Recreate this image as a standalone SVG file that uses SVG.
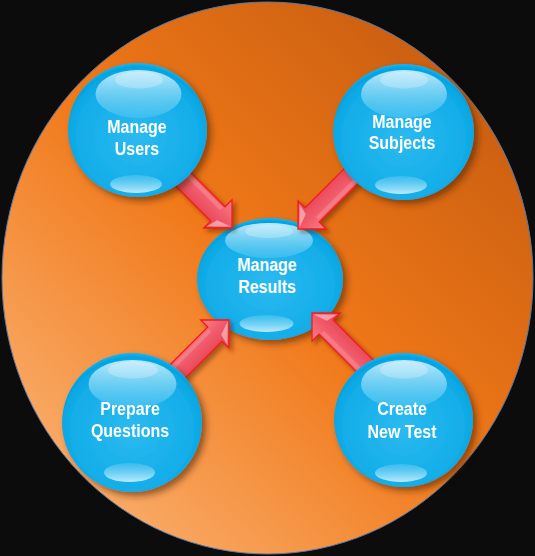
<svg xmlns="http://www.w3.org/2000/svg" xmlns:xlink="http://www.w3.org/1999/xlink" width="535" height="556" viewBox="0 0 535 556">
<defs>
<style>
.lbl{font-family:"Liberation Sans",Arial,sans-serif;font-weight:bold;font-size:16px;fill:#ffffff;text-anchor:middle}
.body{fill:url(#nodeFill);filter:url(#nodeShadow)}
.hiTop{fill:url(#hiTopFill)}
.hiCap{fill:#ffffff;opacity:0.25}
.hiBot{fill:url(#hiBotFill)}
</style>
<linearGradient id="bgFill" gradientUnits="userSpaceOnUse" x1="0" y1="556" x2="535" y2="0">
<stop offset="0" stop-color="#fcbd84"/>
<stop offset="0.5" stop-color="#f07818"/>
<stop offset="1" stop-color="#bd560e"/>
</linearGradient>
<radialGradient id="nodeFill" cx="0.5" cy="0.55" r="0.55">
<stop offset="0" stop-color="#2cbaf0"/>
<stop offset="0.8" stop-color="#12ade8"/>
<stop offset="0.95" stop-color="#04a4e2"/>
<stop offset="1" stop-color="#18b4ee"/>
</radialGradient>
<linearGradient id="hiTopFill" x1="0" y1="0" x2="0" y2="1">
<stop offset="0" stop-color="#d2f1fd" stop-opacity="0.9"/>
<stop offset="1" stop-color="#5ccaf3" stop-opacity="0.45"/>
</linearGradient>
<linearGradient id="hiBotFill" x1="0" y1="0" x2="0" y2="1">
<stop offset="0" stop-color="#4cc4f2" stop-opacity="0.6"/>
<stop offset="1" stop-color="#cdf1fd" stop-opacity="0.9"/>
</linearGradient>
<linearGradient id="arrowFill" gradientUnits="userSpaceOnUse" x1="0" y1="-20" x2="0" y2="20">
<stop offset="0" stop-color="#f6808c"/>
<stop offset="0.5" stop-color="#f05868"/>
<stop offset="1" stop-color="#e23e50"/>
</linearGradient>
<filter id="nodeShadow" x="-20%" y="-20%" width="150%" height="150%">
<feDropShadow dx="4" dy="4" stdDeviation="3" flood-color="#4a1e00" flood-opacity="0.55"/>
</filter>
<filter id="arrowShadow" x="-20%" y="-40%" width="150%" height="180%">
<feDropShadow dx="3" dy="3" stdDeviation="2" flood-color="#4a1e00" flood-opacity="0.45"/>
</filter>
<g id="arrowShape">
<polygon points="-80,-10 -20,-10 -20,-20 0,0 -20,20 -20,10 -80,10" fill="url(#arrowFill)" stroke="#f41a1a" stroke-width="1.3"/>
<polygon points="-2,0 -19,17 -16,5" fill="#ffffff" opacity="0.45"/>
<rect x="-78" y="-8" width="57" height="4" fill="#ffffff" opacity="0.15"/>
</g>
</defs>

<g id="background">
<rect x="0" y="0" width="535" height="556" fill="#0c0c0c"/>
<ellipse cx="267.5" cy="278" rx="265.5" ry="276" fill="url(#bgFill)" stroke="#5a78a8" stroke-width="1"/>
</g>

<g id="node-manage-results">
<ellipse class="body" cx="270" cy="279" rx="73" ry="61"/>
<ellipse class="hiTop" cx="269" cy="240.5" rx="44" ry="17.5"/>
<ellipse class="hiCap" cx="269" cy="231.5" rx="24" ry="6.5"/>
<ellipse class="hiBot" cx="266.5" cy="323.5" rx="27" ry="8.5"/>
<text class="lbl" transform="translate(267,271) scale(1,1.16)">Manage</text>
<text class="lbl" transform="translate(267,293) scale(1,1.16)">Results</text>
</g>

<g id="connectors" filter="url(#arrowShadow)">
<use xlink:href="#arrowShape" transform="translate(232,228) rotate(45)"/>
<use xlink:href="#arrowShape" transform="translate(298,229) rotate(135)"/>
<use xlink:href="#arrowShape" transform="translate(229,320) rotate(-45)"/>
<use xlink:href="#arrowShape" transform="translate(312,313) rotate(-135)"/>
</g>

<g id="node-manage-users">
<ellipse class="body" cx="137.5" cy="130" rx="69.5" ry="67"/>
<ellipse class="hiTop" cx="138.5" cy="94" rx="43" ry="24"/>
<ellipse class="hiCap" cx="139" cy="80" rx="24" ry="8.5"/>
<ellipse class="hiBot" cx="136" cy="184" rx="26" ry="9"/>
<text class="lbl" transform="translate(137,133) scale(1,1.16)">Manage</text>
<text class="lbl" transform="translate(137,155) scale(1,1.16)">Users</text>
</g>

<g id="node-manage-subjects">
<ellipse class="body" cx="403.5" cy="132" rx="70.5" ry="68"/>
<ellipse class="hiTop" cx="404" cy="94" rx="43" ry="24"/>
<ellipse class="hiCap" cx="404" cy="80" rx="24" ry="8.5"/>
<ellipse class="hiBot" cx="401" cy="185" rx="26" ry="9"/>
<text class="lbl" transform="translate(402,128) scale(1,1.16)">Manage</text>
<text class="lbl" transform="translate(402,149) scale(1,1.16)">Subjects</text>
</g>

<g id="node-prepare-questions">
<ellipse class="body" cx="132" cy="422.5" rx="70" ry="69.5"/>
<ellipse class="hiTop" cx="132.5" cy="384" rx="44" ry="24"/>
<ellipse class="hiCap" cx="133" cy="370" rx="25" ry="8.5"/>
<ellipse class="hiBot" cx="129.5" cy="472.5" rx="25.5" ry="9.5"/>
<text class="lbl" transform="translate(130,415) scale(1,1.16)">Prepare</text>
<text class="lbl" transform="translate(130,437) scale(1,1.16)">Questions</text>
</g>

<g id="node-create-new-test">
<ellipse class="body" cx="403.5" cy="420" rx="69.5" ry="67"/>
<ellipse class="hiTop" cx="404" cy="384" rx="43" ry="24"/>
<ellipse class="hiCap" cx="404" cy="370" rx="24" ry="8.5"/>
<ellipse class="hiBot" cx="401" cy="473" rx="26" ry="9"/>
<text class="lbl" transform="translate(402,415) scale(1,1.16)">Create</text>
<text class="lbl" transform="translate(402,438) scale(1,1.16)">New Test</text>
</g>
</svg>
